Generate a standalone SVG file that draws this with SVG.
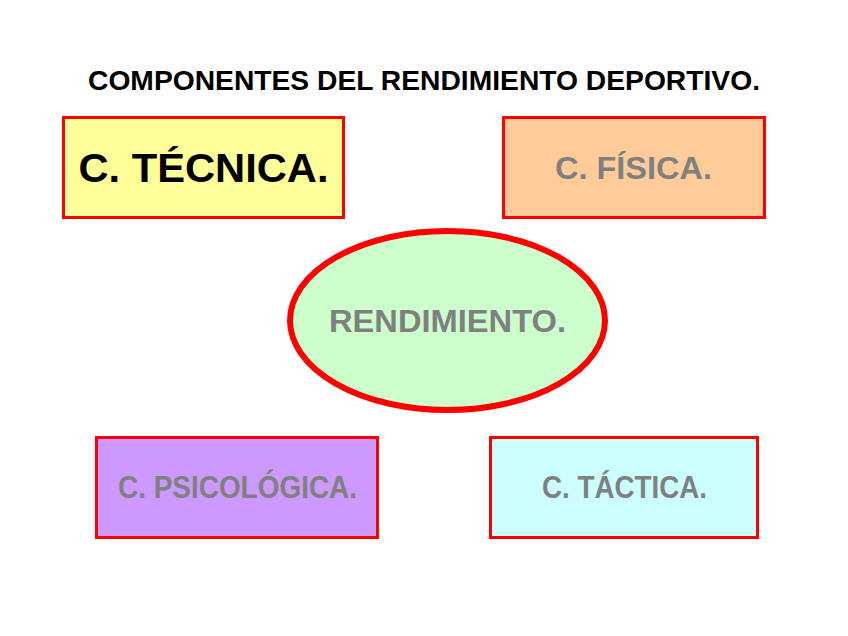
<svg xmlns="http://www.w3.org/2000/svg" width="848" height="636" viewBox="0 0 848 636">
<style>
.box{stroke:#ff0000;stroke-width:3}
.t{font-family:"Liberation Sans",Arial,sans-serif;font-weight:bold;text-anchor:middle}
.g{fill:#808080;font-size:32px}
</style>
<rect width="848" height="636" fill="#ffffff"/>
<text class="t" x="424" y="90" font-size="28" fill="#000" textLength="672" lengthAdjust="spacingAndGlyphs">COMPONENTES DEL RENDIMIENTO DEPORTIVO.</text>
<g id="tecnica">
<rect class="box" x="63.5" y="117.5" width="280" height="100" fill="#ffff99"/>
<text class="t" x="203.5" y="182" font-size="40" fill="#000" textLength="250" lengthAdjust="spacingAndGlyphs">C. TÉCNICA.</text>
</g>
<g id="fisica">
<rect class="box" x="503.5" y="117.5" width="261" height="100" fill="#ffcc99"/>
<text class="t g" x="633.5" y="179" textLength="157" lengthAdjust="spacingAndGlyphs">C. FÍSICA.</text>
</g>
<g id="rendimiento">
<ellipse cx="447.5" cy="320.5" rx="157.5" ry="89.5" fill="#ccffcc" stroke="#ff0000" stroke-width="6"/>
<text class="t g" x="447.5" y="332" textLength="237" lengthAdjust="spacingAndGlyphs">RENDIMIENTO.</text>
</g>
<g id="psicologica">
<rect class="box" x="96.5" y="437.5" width="281" height="100" fill="#cc99ff"/>
<text class="t g" x="237.5" y="498" textLength="239" lengthAdjust="spacingAndGlyphs">C. PSICOLÓGICA.</text>
</g>
<g id="tactica">
<rect class="box" x="490.5" y="437.5" width="267" height="100" fill="#ccffff"/>
<text class="t g" x="624.5" y="498" textLength="165" lengthAdjust="spacingAndGlyphs">C. TÁCTICA.</text>
</g>
<g id="connectors"/>
</svg>
